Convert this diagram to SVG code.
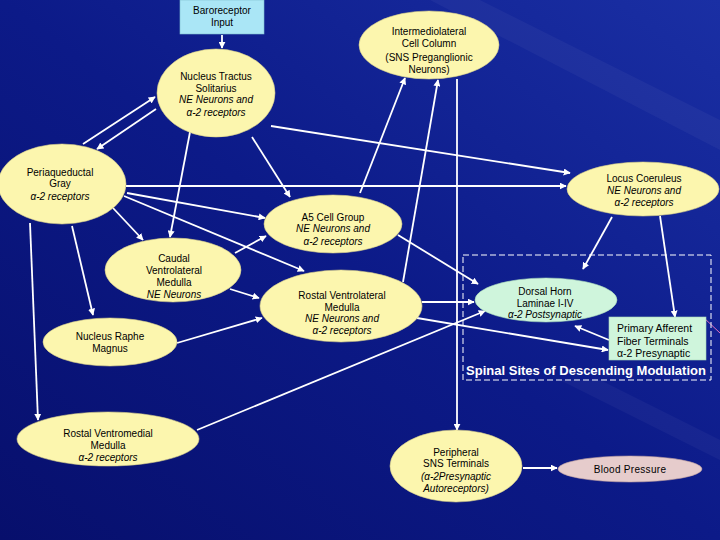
<svg xmlns="http://www.w3.org/2000/svg" width="720" height="540" viewBox="0 0 720 540">
<defs>
<linearGradient id="bg" x1="0" y1="1" x2="1" y2="0">
<stop offset="0" stop-color="#070f6c"/>
<stop offset="0.5" stop-color="#0c1a88"/>
<stop offset="1" stop-color="#1a2fa4"/>
</linearGradient>
<marker id="ah" viewBox="0 0 10 10" refX="9" refY="5" markerWidth="7" markerHeight="7" markerUnits="userSpaceOnUse" orient="auto">
<path d="M0,0 L10,5 L0,10 z" fill="#ffffff"/>
</marker>
<style>
.y{fill:#fcf6ae;stroke:#d8d08a;stroke-width:0.6}
.g{fill:#cff5dc;stroke:#a8d8b8;stroke-width:0.6}
.t{font-family:"Liberation Sans",Arial,sans-serif;font-size:10px;fill:#000;text-anchor:middle}
.i{font-style:italic}
.c line{stroke:#fff;stroke-width:1.8;marker-end:url(#ah)}
</style>
</defs>
<rect width="720" height="540" fill="url(#bg)"/>
<path d="M430,0 L720,150 L720,120 L480,0 z" fill="#ffffff" opacity="0.04"/>
<path d="M560,380 L720,460 L720,440 L600,380 z" fill="#ffffff" opacity="0.04"/>
<line x1="703" y1="317" x2="720" y2="333" stroke="#e070c0" stroke-width="1"/>

<g id="connectors" class="c">
<line x1="222" y1="35" x2="222" y2="48"/>
<line x1="83" y1="144" x2="155" y2="97"/>
<line x1="156" y1="109" x2="97" y2="149"/>
<line x1="190" y1="132" x2="170" y2="237"/>
<line x1="252" y1="137" x2="290" y2="197"/>
<line x1="271" y1="126" x2="570" y2="173"/>
<line x1="126" y1="186" x2="566" y2="186"/>
<line x1="127" y1="193" x2="265" y2="218"/>
<line x1="124" y1="196" x2="304" y2="271"/>
<line x1="113" y1="208" x2="143" y2="240"/>
<line x1="72" y1="226" x2="93" y2="315"/>
<line x1="30" y1="223" x2="38" y2="420"/>
<line x1="235" y1="253" x2="266" y2="236"/>
<line x1="230" y1="289" x2="259" y2="298"/>
<line x1="177" y1="343" x2="262" y2="318"/>
<line x1="197" y1="430" x2="485" y2="311"/>
<line x1="403" y1="282" x2="438" y2="80"/>
<line x1="422" y1="302" x2="474" y2="302"/>
<line x1="417" y1="318" x2="608" y2="350"/>
<line x1="398" y1="235" x2="478" y2="284"/>
<line x1="360" y1="193" x2="405" y2="78"/>
<line x1="457" y1="79" x2="457" y2="430"/>
<line x1="523" y1="468" x2="557" y2="468"/>
<line x1="612" y1="217" x2="583" y2="269"/>
<line x1="660" y1="216" x2="675" y2="317"/>
<line x1="609" y1="340" x2="575" y2="326"/>
</g>

<g id="spinal-sites">
<rect x="463" y="255" width="248" height="125" fill="none" stroke="#fff" stroke-width="1" stroke-dasharray="6,3"/>
<text x="586" y="375" style="font-family:'Liberation Sans',Arial,sans-serif;font-size:13px;font-weight:bold;fill:#fff;text-anchor:middle">Spinal Sites of Descending Modulation</text>
</g>

<g id="baroreceptor">
<rect x="180" y="0" width="84" height="34" fill="#aae6f6" stroke="#80c0d0" stroke-width="0.6"/>
<text class="t" x="222" y="13.5">Baroreceptor</text>
<text class="t" x="222" y="26">Input</text>
</g>

<g id="nts">
<ellipse class="y" cx="216" cy="93" rx="59" ry="44"/>
<text class="t" x="216" y="79.5">Nucleus Tractus</text>
<text class="t" x="216" y="91.5">Solitarius</text>
<text class="t i" x="216" y="103">NE Neurons and</text>
<text class="t i" x="216" y="115.5">α-2 receptors</text>
</g>

<g id="iml">
<ellipse class="y" cx="429" cy="45" rx="70" ry="34"/>
<text class="t" x="429" y="34.5">Intermediolateral</text>
<text class="t" x="429" y="47">Cell Column</text>
<text class="t" x="429" y="60.5">(SNS Preganglionic</text>
<text class="t" x="429" y="73">Neurons)</text>
</g>

<g id="pag">
<ellipse class="y" cx="62" cy="184" rx="64" ry="40"/>
<text class="t" x="60" y="175.5">Periaqueductal</text>
<text class="t" x="60" y="187">Gray</text>
<text class="t i" x="60" y="199.5">α-2 receptors</text>
</g>

<g id="lc">
<ellipse class="y" cx="643" cy="189" rx="76" ry="27"/>
<text class="t" x="644" y="181.5">Locus Coeruleus</text>
<text class="t i" x="644" y="193.5">NE Neurons and</text>
<text class="t i" x="644" y="205.5">α-2 receptors</text>
</g>

<g id="a5">
<ellipse class="y" cx="333" cy="224" rx="69" ry="29"/>
<text class="t" x="333" y="220.5">A5 Cell Group</text>
<text class="t i" x="333" y="232">NE Neurons and</text>
<text class="t i" x="333" y="244.5">α-2 receptors</text>
</g>

<g id="cvlm">
<ellipse class="y" cx="173" cy="270" rx="68" ry="32"/>
<text class="t" x="174" y="261.5">Caudal</text>
<text class="t" x="174" y="273.5">Ventrolateral</text>
<text class="t" x="174" y="285.5">Medulla</text>
<text class="t i" x="174" y="297.5">NE Neurons</text>
</g>

<g id="rvlm">
<ellipse class="y" cx="341" cy="306" rx="81" ry="36"/>
<text class="t" x="342" y="298.5">Rostal Ventrolateral</text>
<text class="t" x="342" y="310.5">Medulla</text>
<text class="t i" x="342" y="322">NE Neurons and</text>
<text class="t i" x="342" y="334">α-2 receptors</text>
</g>

<g id="nrm">
<ellipse class="y" cx="110" cy="342" rx="67" ry="24"/>
<text class="t" x="110" y="339.5">Nucleus Raphe</text>
<text class="t" x="110" y="351.5">Magnus</text>
</g>

<g id="rvm">
<ellipse class="y" cx="108" cy="439" rx="91" ry="27"/>
<text class="t" x="108" y="436.5">Rostal Ventromedial</text>
<text class="t" x="108" y="448.5">Medulla</text>
<text class="t i" x="108" y="460.5">α-2 receptors</text>
</g>

<g id="dorsal-horn">
<ellipse class="g" cx="546" cy="300" rx="71" ry="22"/>
<text class="t" x="545" y="294.5">Dorsal Horn</text>
<text class="t" x="545" y="306.5">Laminae I-IV</text>
<text class="t i" x="545" y="317.5">α-2 Postsynaptic</text>
</g>

<g id="primary-afferent">
<rect x="609" y="317" width="97" height="43" fill="#cff5dc" stroke="#a8d8b8" stroke-width="0.6"/>
<text class="t" x="617" y="332" style="text-anchor:start;font-size:10.5px">Primary Afferent</text>
<text class="t" x="617" y="345" style="text-anchor:start;font-size:10.5px">Fiber Terminals</text>
<text class="t" x="617" y="356.5" style="text-anchor:start;font-size:10.5px">α-2 Presynaptic</text>
</g>

<g id="peripheral-sns">
<ellipse class="y" cx="456" cy="466" rx="66" ry="36"/>
<text class="t" x="456" y="455.5">Peripheral</text>
<text class="t" x="456" y="467">SNS Terminals</text>
<text class="t i" x="456" y="479.5">(α-2Presynaptic</text>
<text class="t i" x="456" y="491.5">Autoreceptors)</text>
</g>

<g id="blood-pressure">
<ellipse cx="630" cy="469" rx="72" ry="13" fill="#e6cccc" stroke="#c0a0a0" stroke-width="0.6"/>
<text class="t" x="630" y="472.5" style="letter-spacing:0.3px">Blood Pressure</text>
</g>
</svg>
